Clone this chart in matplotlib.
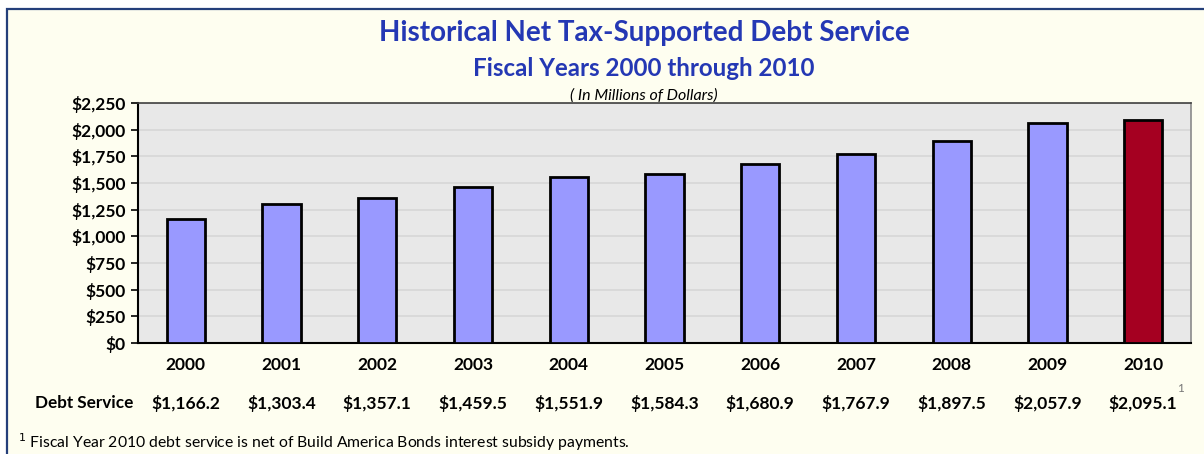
import matplotlib
matplotlib.use("Agg")
import matplotlib.pyplot as plt
from matplotlib.patches import Rectangle
from matplotlib.transforms import blended_transform_factory
import numpy as np

years = ["2000", "2001", "2002", "2003", "2004", "2005", "2006", "2007", "2008", "2009", "2010"]
debt_service = [1166.2, 1303.4, 1357.1, 1459.5, 1551.9, 1584.3, 1680.9, 1767.9, 1897.5, 2057.9, 2095.1]
debt_labels = ["$1,166.2", "$1,303.4", "$1,357.1", "$1,459.5", "$1,551.9", "$1,584.3",
               "$1,680.9", "$1,767.9", "$1,897.5", "$2,057.9", "$2,095.1"]
y_ticks = [0, 250, 500, 750, 1000, 1250, 1500, 1750, 2000, 2250]
y_tick_labels = ["$0", "$250", "$500", "$750", "$1,000", "$1,250", "$1,500", "$1,750", "$2,000", "$2,250"]
bar_colors = ["#9999FF"] * 10 + ["#A50021"]

plt.rcParams['font.family'] = ['Lato', 'DejaVu Sans']

W, H = 1204, 454
fig = plt.figure(figsize=(W / 100, H / 100), dpi=100)
fig.patch.set_facecolor("white")

# outer cream frame
frame = Rectangle((7 / W, -0.05), 1.1, 1 - 9 / H + 0.05, transform=fig.transFigure,
                  facecolor="#FEFEF0", edgecolor="#243F7A", linewidth=1.6, zorder=-10)
fig.patches.append(frame)

ax = fig.add_axes([138 / W, 1 - 343 / H, (1191 - 138) / W, (343 - 103) / H])
ax.set_zorder(1)
ax.set_facecolor("#E8E8E8")
x = np.arange(len(years))
ax.bar(x, debt_service, width=0.40, color=bar_colors, edgecolor="black", linewidth=2, zorder=3)
ax.set_xlim(-0.5, len(years) - 0.5)
ax.set_ylim(0, 2250)
ax.set_yticks(y_ticks)
ax.set_yticklabels(y_tick_labels, fontsize=12.5, fontweight="bold")
ax.tick_params(axis="y", length=5, width=1.2, pad=4, direction="out")
ax.set_xticks(x)
ax.set_xticklabels(years, fontsize=12.5, fontweight="bold")
ax.tick_params(axis="x", length=0, pad=10)
ax.yaxis.grid(True, color="#D6D6D6", linewidth=1.2, zorder=0)
ax.set_axisbelow(True)
for s in ["left", "bottom"]:
    ax.spines[s].set_color("black")
    ax.spines[s].set_linewidth(1.5)
ax.spines["top"].set_color("#404040")
ax.spines["top"].set_linewidth(1.2)
ax.spines["right"].set_color("#8A8A8A")
ax.spines["right"].set_linewidth(1.2)

# titles
fig.text(644 / W, 1 - 33 / H, "Historical Net Tax-Supported Debt Service", ha="center", va="center",
         fontsize=20, fontweight="bold", color="#2438B4")
fig.text(644 / W, 1 - 68 / H, "Fiscal Years 2000 through 2010", ha="center", va="center",
         fontsize=17.4, fontweight="bold", color="#2438B4")
fig.text(644 / W, 1 - 96 / H, "( In Millions of Dollars)", ha="center", va="center",
         fontsize=11.5, fontstyle="italic", color="black", zorder=0)

# debt service row
tr = blended_transform_factory(ax.transData, fig.transFigure)
for xi, lab in zip(x, debt_labels):
    ax.text(xi, 1 - 403 / H, lab, transform=tr, ha="center", va="center",
            fontsize=12.5, fontweight="bold", clip_on=False)
fig.text(133 / W, 1 - 403 / H, "Debt Service", ha="right", va="center", fontsize=12.3, fontweight="bold")
fig.text(1180 / W, 1 - 389 / H, "1", ha="center", va="center", fontsize=8.5, color="#777777")

# footnote
fig.text(18 / W, 1 - 442 / H, "$^{1}$ Fiscal Year 2010 debt service is net of Build America Bonds interest subsidy payments.",
         ha="left", va="center", fontsize=11.3)

fig.savefig("out.png", dpi=100, facecolor=fig.get_facecolor())
